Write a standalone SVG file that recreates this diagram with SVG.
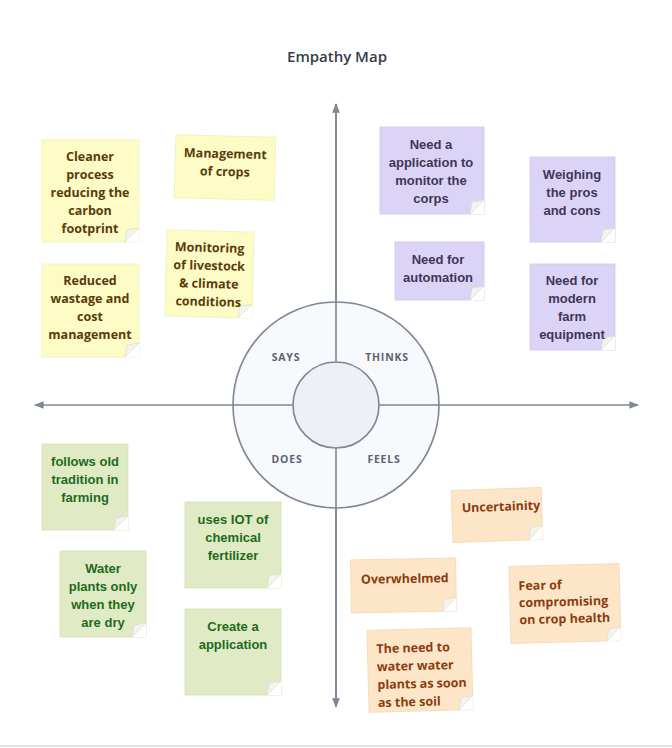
<svg xmlns="http://www.w3.org/2000/svg" width="672" height="748" viewBox="0 0 672 748">
<defs>
<style>
.y{fill:#fdfcc6;stroke:#f1efb0;stroke-width:0.8}
.p{fill:#dcd4f6;stroke:#cfc6ef;stroke-width:0.8}
.g{fill:#e0ebc6;stroke:#d2e0b2;stroke-width:0.8}
.o{fill:#fde6c8;stroke:#f5d6ae;stroke-width:0.8}
.cut{fill:#ffffff}
.fold{fill:#f4f4ee;stroke:#d9d9cf;stroke-width:0.6}
.ty{font-family:"Open Sans","Liberation Sans",sans-serif;font-weight:bold;font-size:12.5px;fill:#5a3b0c;text-anchor:middle}
.tp{font-family:"Liberation Sans",Arial,sans-serif;font-weight:bold;font-size:13px;fill:#3f3658;text-anchor:middle}
.tg{font-family:"Liberation Sans",Arial,sans-serif;font-weight:bold;font-size:13px;fill:#1d6a1d;text-anchor:middle}
.to{font-family:"Open Sans","Liberation Sans",sans-serif;font-weight:bold;font-size:12.5px;fill:#8a3c10}
.q{font-family:"Open Sans","Liberation Sans",sans-serif;font-weight:bold;font-size:10.5px;fill:#5b6374;letter-spacing:0.8px;text-anchor:middle}
.ax{stroke:#7d8797;stroke-width:1.6;fill:none}
</style>
<marker id="ah" viewBox="0 0 10 10" refX="9" refY="5" markerWidth="6" markerHeight="6" orient="auto">
<path d="M0,1 L10,5 L0,9 Z" fill="#7d8797"/>
</marker>
</defs>
<rect width="672" height="748" fill="#ffffff"/>
<line x1="0" y1="746" x2="672" y2="746" stroke="#e2e2e2" stroke-width="2"/>
<text x="337" y="62" font-family="Open Sans,Liberation Sans,sans-serif" font-size="15" font-weight="600" fill="#353c48" text-anchor="middle">Empathy Map</text>

<g id="connectors">
<line class="ax" x1="336" y1="707" x2="336" y2="104" marker-end="url(#ah)"/>
<line class="ax" x1="336" y1="104" x2="336" y2="707" marker-end="url(#ah)"/>
<line class="ax" x1="336" y1="405" x2="35" y2="405" marker-end="url(#ah)"/>
<line class="ax" x1="336" y1="405" x2="638" y2="405" marker-end="url(#ah)"/>
</g>

<g id="wheel">
<circle cx="336" cy="405" r="103" fill="#f8f9fc" stroke="#7d8797" stroke-width="1.6"/>
<line class="ax" x1="336" y1="302" x2="336" y2="508"/>
<line class="ax" x1="233" y1="405" x2="439" y2="405"/>
<circle cx="336" cy="405" r="43" fill="#edf0f5" stroke="#7d8797" stroke-width="1.6"/>
<text class="q" x="286" y="361">SAYS</text>
<text class="q" x="387" y="361">THINKS</text>
<text class="q" x="287" y="463">DOES</text>
<text class="q" x="384" y="463">FEELS</text>
</g>

<!-- Yellow: SAYS -->
<g id="n1">
<rect class="y" x="42" y="140" width="97" height="102"/>
<path class="cut" d="M125,242 L139,242 L139,228 Z"/><path class="fold" d="M125,242 L139,228 L127,230 Z"/>
<text class="ty" x="90" y="161">Cleaner</text>
<text class="ty" x="90" y="179">process</text>
<text class="ty" x="90" y="197">reducing the</text>
<text class="ty" x="90" y="215">carbon</text>
<text class="ty" x="90" y="233">footprint</text>
</g>
<g id="n2" transform="rotate(1.5 225 167)">
<rect class="y" x="175" y="136" width="100" height="63"/>
<text class="ty" x="225" y="158">Management</text>
<text class="ty" x="225" y="176">of crops</text>
</g>
<g id="n3" transform="rotate(1.5 209 274)">
<rect class="y" x="166" y="231" width="87" height="86"/>
<path class="cut" d="M239,317 L253,317 L253,303 Z"/><path class="fold" d="M239,317 L253,303 L241,305 Z"/>
<text class="ty" x="209" y="252">Monitoring</text>
<text class="ty" x="209" y="270">of livestock</text>
<text class="ty" x="209" y="288">&amp; climate</text>
<text class="ty" x="209" y="306">conditions</text>
</g>
<g id="n4">
<rect class="y" x="42" y="264" width="97" height="93"/>
<path class="cut" d="M125,357 L139,357 L139,343 Z"/><path class="fold" d="M125,357 L139,343 L127,345 Z"/>
<text class="ty" x="90" y="285">Reduced</text>
<text class="ty" x="90" y="303">wastage and</text>
<text class="ty" x="90" y="321">cost</text>
<text class="ty" x="90" y="339">management</text>
</g>

<!-- Purple: THINKS -->
<g id="n5">
<rect class="p" x="380" y="127" width="104" height="87"/>
<path class="cut" d="M470,214 L484,214 L484,200 Z"/><path class="fold" d="M470,214 L484,200 L472,202 Z"/>
<text class="tp" x="431" y="149">Need a</text>
<text class="tp" x="431" y="167">application to</text>
<text class="tp" x="431" y="185">monitor the</text>
<text class="tp" x="431" y="203">corps</text>
</g>
<g id="n6">
<rect class="p" x="530" y="157" width="85" height="85"/>
<path class="cut" d="M601,242 L615,242 L615,228 Z"/><path class="fold" d="M601,242 L615,228 L603,230 Z"/>
<text class="tp" x="572" y="179">Weighing</text>
<text class="tp" x="572" y="197">the pros</text>
<text class="tp" x="572" y="215">and cons</text>
</g>
<g id="n7">
<rect class="p" x="395" y="242" width="89" height="58"/>
<path class="cut" d="M470,300 L484,300 L484,286 Z"/><path class="fold" d="M470,300 L484,286 L472,288 Z"/>
<text class="tp" x="438" y="264">Need for</text>
<text class="tp" x="438" y="282">automation</text>
</g>
<g id="n8">
<rect class="p" x="530" y="264" width="85" height="86"/>
<path class="cut" d="M601,350 L615,350 L615,336 Z"/><path class="fold" d="M601,350 L615,336 L603,338 Z"/>
<text class="tp" x="572" y="285">Need for</text>
<text class="tp" x="572" y="303">modern</text>
<text class="tp" x="572" y="321">farm</text>
<text class="tp" x="572" y="339">equipment</text>
</g>

<!-- Green: DOES -->
<g id="n9">
<rect class="g" x="42" y="444" width="86" height="86"/>
<path class="cut" d="M114,530 L128,530 L128,516 Z"/><path class="fold" d="M114,530 L128,516 L116,518 Z"/>
<text class="tg" x="85" y="466">follows old</text>
<text class="tg" x="85" y="484">tradition in</text>
<text class="tg" x="85" y="502">farming</text>
</g>
<g id="n10">
<rect class="g" x="60" y="551" width="86" height="86"/>
<path class="cut" d="M132,637 L146,637 L146,623 Z"/><path class="fold" d="M132,637 L146,623 L134,625 Z"/>
<text class="tg" x="103" y="573">Water</text>
<text class="tg" x="103" y="591">plants only</text>
<text class="tg" x="103" y="609">when they</text>
<text class="tg" x="103" y="627">are dry</text>
</g>
<g id="n11">
<rect class="g" x="185" y="502" width="96" height="86"/>
<path class="cut" d="M267,588 L281,588 L281,574 Z"/><path class="fold" d="M267,588 L281,574 L269,576 Z"/>
<text class="tg" x="233" y="524">uses IOT of</text>
<text class="tg" x="233" y="542">chemical</text>
<text class="tg" x="233" y="560">fertilizer</text>
</g>
<g id="n12">
<rect class="g" x="185" y="609" width="96" height="86"/>
<path class="cut" d="M267,695 L281,695 L281,681 Z"/><path class="fold" d="M267,695 L281,681 L269,683 Z"/>
<text class="tg" x="233" y="631">Create a</text>
<text class="tg" x="233" y="649">application</text>
</g>

<!-- Orange: FEELS -->
<g id="n13" transform="rotate(-2 497 515)">
<rect class="o" x="452" y="489" width="90" height="52"/>
<path class="cut" d="M528,541 L542,541 L542,527 Z"/><path class="fold" d="M528,541 L542,527 L530,529 Z"/>
<text class="to" x="462" y="511">Uncertainity</text>
</g>
<g id="n14" transform="rotate(-1 403 585)">
<rect class="o" x="351" y="559" width="105" height="53"/>
<path class="cut" d="M442,612 L456,612 L456,598 Z"/><path class="fold" d="M442,612 L456,598 L444,600 Z"/>
<text class="to" x="361" y="583">Overwhelmed</text>
</g>
<g id="n15" transform="rotate(-1.5 565 604)">
<rect class="o" x="510" y="565" width="110" height="77"/>
<path class="cut" d="M606,642 L620,642 L620,628 Z"/><path class="fold" d="M606,642 L620,628 L608,630 Z"/>
<text class="to" x="519" y="589">Fear of</text>
<text class="to" x="519" y="606">compromising</text>
<text class="to" x="519" y="623">on crop health</text>
</g>
<g id="n16" transform="rotate(-1.5 420 670)">
<rect class="o" x="368" y="629" width="104" height="82"/>
<path class="cut" d="M458,711 L472,711 L472,697 Z"/><path class="fold" d="M458,711 L472,697 L460,699 Z"/>
<text class="to" x="377" y="652">The need to</text>
<text class="to" x="377" y="670">water water</text>
<text class="to" x="377" y="688">plants as soon</text>
<text class="to" x="377" y="706">as the soil</text>
</g>
</svg>
